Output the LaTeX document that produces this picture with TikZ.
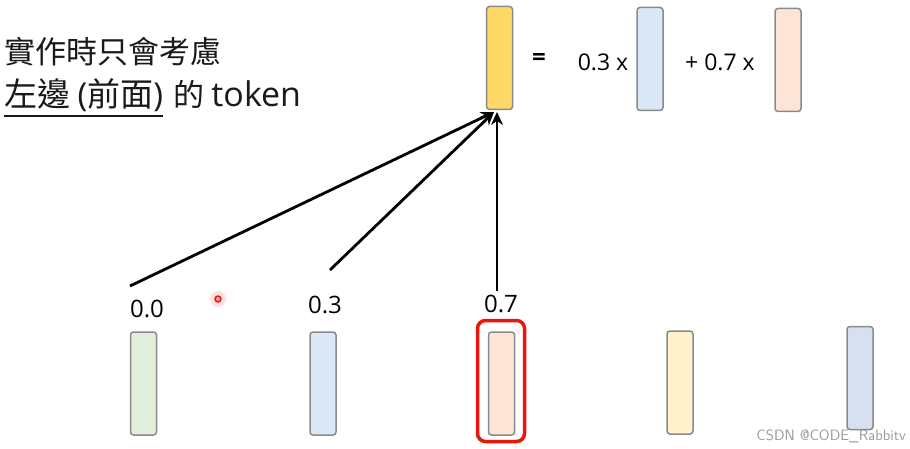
\documentclass[tikz,border=0pt]{standalone}
\usepackage{fontspec}
\setmainfont{Open Sans}
\newfontfamily\cjk{Noto Sans CJK TC}
\usetikzlibrary{arrows.meta}
\definecolor{barline}{HTML}{8A8A8A}
\definecolor{ygold}{HTML}{FFD966}
\definecolor{lblue}{HTML}{DAE8F5}
\definecolor{peach}{HTML}{FCE4D6}
\definecolor{lgreen}{HTML}{E2EFDA}
\definecolor{lyellow}{HTML}{FFF2CC}
\definecolor{bgray}{HTML}{D6E0F0}
\definecolor{hired}{HTML}{E8150B}
\definecolor{ink}{HTML}{1A1A1A}
\tikzset{
  vec/.style={draw=barline, line width=1.5pt, rounded corners=3pt,
    minimum width=26pt, minimum height=103pt, inner sep=0pt},
  wlabel/.style={font=\fontsize{24}{26}\selectfont, inner sep=0pt},
  eqtext/.style={font=\fontsize{23}{26}\selectfont, inner sep=0pt},
  heading/.style={anchor=base west, inner sep=0pt, text=ink, font=\cjk\fontsize{31}{34}\selectfont},
  attn/.style={line width=2.8pt, -{Stealth[length=13pt,width=12pt]}},
}
\begin{document}
\begin{tikzpicture}[x=1pt,y=-1pt]
\useasboundingbox (0,0) rectangle (910,449);
% heading text
\node[heading] (l1) at (4,64) {實作時只會考慮};
\node[heading, font=\cjk\fontsize{33}{36}\selectfont] (l2a) at (4,107) {左邊 {\fontspec{Open Sans}(}前面{\fontspec{Open Sans})}};
\node[heading, anchor=base west] (l2b) at ([xshift=10pt]l2a.base east) {的 {\fontspec{Open Sans}\fontsize{34}{36}\selectfont token}};
\draw[ink, line width=2pt] ([yshift=-9pt]l2a.base west) -- ([yshift=-9pt]l2a.base east);
% weighted sum on top
\node[vec, fill=ygold] (out) at (499.5,58) {};
\node[font=\fontsize{24}{26}\selectfont\bfseries, inner sep=0pt] (eq) at (539,60) {=};
\node[eqtext] (c1) at (603,62) {0.3 x};
\node[vec, fill=lblue] (v1) at (650,59) {};
\node[eqtext] (c2) at (720,62) {+ 0.7 x};
\node[vec, fill=peach] (v2) at (788,60) {};
% token vectors
\node[vec, fill=lgreen] (t1) at (143.5,383.5) {};
\node[vec, fill=lblue] (t2) at (323,383.5) {};
\node[vec, fill=peach] (t3) at (501.5,383.5) {};
\node[vec, fill=lyellow] (t4) at (680,382.5) {};
\node[vec, fill=bgray] (t5) at (860,378) {};
\node[draw=hired, line width=3.5pt, rounded corners=8pt, minimum width=47pt, minimum height=121pt, inner sep=0pt] (hl) at (501,381) {};
% attention weights
\node[wlabel] (w1) at (147,309) {0.0};
\node[wlabel] (w2) at (325,305) {0.3};
\node[wlabel] (w3) at (501,304) {0.7};
% arrows to the output
\coordinate (a1) at (130,286);
\coordinate (a2) at (330,270);
\coordinate (a3) at (497,291);
\coordinate (tip) at (494,112);
\draw[attn] (a1) -- (tip);
\draw[attn] (a2) -- (tip);
\draw[attn] (a3) -- (497,112);
% pointer dot
\fill[red!20, opacity=0.6] (218,299) circle (8pt);
\draw[hired, line width=1.4pt, fill=red!40] (218,299) circle (3pt);
% watermark
\node[anchor=east, inner sep=0pt, text=black!40, font=\sffamily\fontsize{15}{17}\selectfont] (wm) at (906,436) {CSDN @CODE\_Rabbitv};
\end{tikzpicture}
\end{document}
